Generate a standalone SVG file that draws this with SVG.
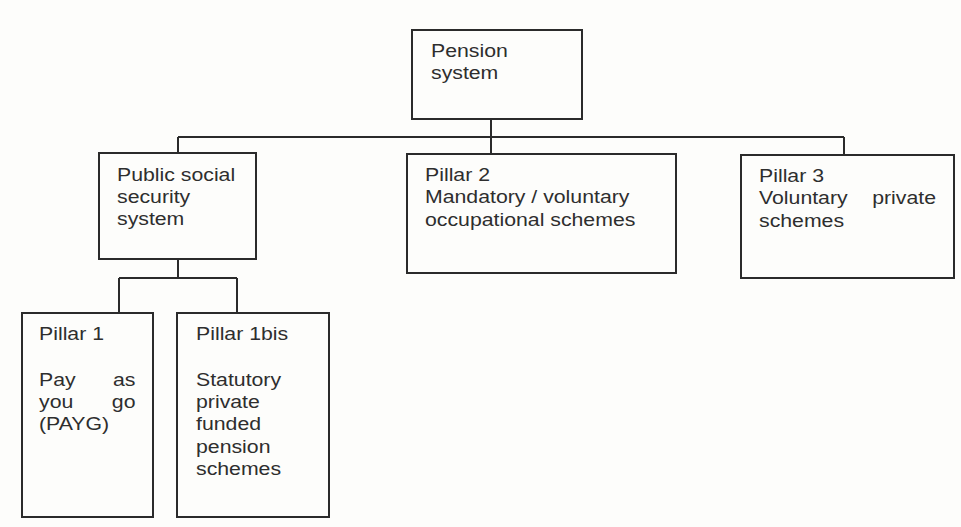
<svg xmlns="http://www.w3.org/2000/svg" width="961" height="527" viewBox="0 0 961 527">
<style>
.box{fill:none;stroke:#2b2b2b;stroke-width:2}
.conn{fill:none;stroke:#2b2b2b;stroke-width:2}
text{font-family:"Liberation Sans",Arial,sans-serif;font-size:18.5px;fill:#2e2e2e}
.r{text-anchor:end}
</style>
<rect width="961" height="527" fill="#fdfdfb"/>
<g id="connectors">
<path class="conn" d="M491,119 V137 M178,137 H844 M178,137 V153 M491,137 V154 M844,137 V155"/>
<path class="conn" d="M178,259 V278 M119,278 H237 M119,278 V313 M237,278 V313"/>
</g>
<g id="pension-system">
<rect class="box" x="412" y="30" width="170" height="89"/>
<text transform="translate(431,57) scale(1.15,1)"><tspan x="0" y="0">Pension</tspan><tspan x="0" y="22.5">system</tspan></text>
</g>
<g id="public-social-security">
<rect class="box" x="99" y="153" width="157" height="106"/>
<text transform="translate(117,181) scale(1.15,1)"><tspan x="0" y="0">Public social</tspan><tspan x="0" y="22">security</tspan><tspan x="0" y="44">system</tspan></text>
</g>
<g id="pillar-2">
<rect class="box" x="407" y="154" width="269" height="119"/>
<text transform="translate(425,181) scale(1.15,1)"><tspan x="0" y="0">Pillar 2</tspan><tspan x="0" y="22.3">Mandatory / voluntary</tspan><tspan x="0" y="44.6">occupational schemes</tspan></text>
</g>
<g id="pillar-3">
<rect class="box" x="741" y="155" width="213" height="123"/>
<text transform="translate(759,182) scale(1.15,1)"><tspan x="0" y="0">Pillar 3</tspan><tspan x="0" y="22.3">Voluntary</tspan><tspan x="0" y="44.6">schemes</tspan></text>
<text class="r" transform="translate(936,204.3) scale(1.15,1)">private</text>
</g>
<g id="pillar-1">
<rect class="box" x="22" y="313" width="131" height="204"/>
<text transform="translate(39,340) scale(1.15,1)"><tspan x="0" y="0">Pillar 1</tspan><tspan x="0" y="46">Pay</tspan><tspan x="0" y="68">you</tspan><tspan x="0" y="90">(PAYG)</tspan></text>
<text class="r" transform="translate(135.5,386) scale(1.15,1)"><tspan x="0" y="0">as</tspan><tspan x="0" y="22">go</tspan></text>
</g>
<g id="pillar-1bis">
<rect class="box" x="177" y="313" width="152" height="204"/>
<text transform="translate(196,340) scale(1.15,1)"><tspan x="0" y="0">Pillar 1bis</tspan><tspan x="0" y="46">Statutory</tspan><tspan x="0" y="68.2">private</tspan><tspan x="0" y="90.4">funded</tspan><tspan x="0" y="112.6">pension</tspan><tspan x="0" y="134.8">schemes</tspan></text>
</g>
</svg>
